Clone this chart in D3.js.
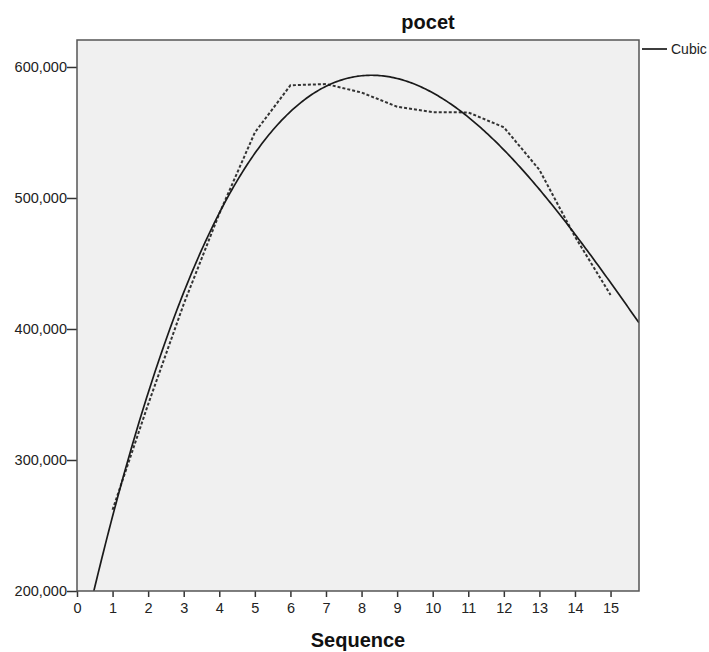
<!DOCTYPE html>
<html><head><meta charset="utf-8">
<script src="https://cdn.jsdelivr.net/npm/d3@7"></script>
<style>body{margin:0;background:#fff}svg{display:block}text{font-family:"Liberation Sans",Arial,sans-serif}</style>
</head><body>
<svg id="c" width="709" height="652"></svg>
<script>
const sequence = [1,2,3,4,5,6,7,8,9,10,11,12,13,14,15];
const pocet = [262000,342500,419000,488000,550000,586000,587000,580500,569700,565500,565300,554000,521500,470500,426000];
const xTicks = [0,1,2,3,4,5,6,7,8,9,10,11,12,13,14,15];
const yTicks = [200000,300000,400000,500000,600000];
const title = "pocet", xLabel = "Sequence", legendLabel = "Cubic";

// cubic least-squares fit of the observed series
function cubicFit(xs, ys){
  const n=4, A=[...Array(n)].map(()=>Array(n+1).fill(0));
  xs.forEach((x,k)=>{
    for(let i=0;i<n;i++){for(let j=0;j<n;j++)A[i][j]+=Math.pow(x,i+j);A[i][n]+=ys[k]*Math.pow(x,i);}
  });
  for(let i=0;i<n;i++){
    let p=i;for(let r=i+1;r<n;r++)if(Math.abs(A[r][i])>Math.abs(A[p][i]))p=r;
    [A[i],A[p]]=[A[p],A[i]];
    for(let r=0;r<n;r++){if(r===i)continue;const f=A[r][i]/A[i][i];for(let c=i;c<=n;c++)A[r][c]-=f*A[i][c];}
  }
  return A.map((row,i)=>row[n]/row[i]);
}
const coef = cubicFit(sequence, pocet);
const fx = x => coef[0]+coef[1]*x+coef[2]*x*x+coef[3]*x*x*x;

const svg = d3.select("#c");
const L=77, T=40, R=639, B=591;
const x = d3.scaleLinear().domain([0,15.8]).range([L,R]);
const y = d3.scaleLinear().domain([200000,620600]).range([B,T]);

svg.append("defs").append("clipPath").attr("id","clip")
  .append("rect").attr("x",L).attr("y",T).attr("width",R-L).attr("height",B-T);

svg.append("rect").attr("x",L).attr("y",T).attr("width",R-L).attr("height",B-T)
  .attr("fill","#f0f0f0");

// axes
const fmt = d3.format(",");
const yAxis = svg.append("g").attr("transform",`translate(${L},0)`)
  .call(d3.axisLeft(y).tickValues(yTicks).tickFormat(fmt).tickSize(10).tickPadding(0));
const xAxis = svg.append("g").attr("transform",`translate(0,${B})`)
  .call(d3.axisBottom(x).tickValues(xTicks).tickFormat(d3.format("d")).tickSize(6).tickPadding(6));
[yAxis,xAxis].forEach(g=>{
  g.select(".domain").remove();
  g.selectAll(".tick line").attr("stroke","#333").attr("stroke-width",1.5);
  g.selectAll(".tick text").attr("font-size",14.5).attr("fill","#222")
   .attr("font-family","'Liberation Sans',Arial,sans-serif");
});

// data line (dotted)
const clipG = svg.append("g").attr("clip-path","url(#clip)");
clipG.append("path").datum(sequence.map((s,i)=>[s,pocet[i]]))
  .attr("fill","none").attr("stroke","#333").attr("stroke-width",2)
  .attr("stroke-dasharray","3,2")
  .attr("d", d3.line().x(d=>x(d[0])).y(d=>y(d[1])));

// cubic fit line
const fitPts = d3.range(0, 15.8001, 0.05).map(v=>[v, fx(v)]);
clipG.append("path").datum(fitPts)
  .attr("fill","none").attr("stroke","#1a1a1a").attr("stroke-width",1.7)
  .attr("d", d3.line().x(d=>x(d[0])).y(d=>y(d[1])));

// frame
svg.append("rect").attr("x",L).attr("y",T).attr("width",R-L).attr("height",B-T)
  .attr("fill","none").attr("stroke","#555").attr("stroke-width",1.5);

// texts
svg.append("text").attr("x",428).attr("y",29).attr("text-anchor","middle")
  .attr("font-size",20).attr("font-weight","bold").attr("fill","#111").text(title);
svg.append("text").attr("x",358).attr("y",647).attr("text-anchor","middle")
  .attr("font-size",20).attr("font-weight","bold").attr("fill","#111").text(xLabel);

// legend
svg.append("line").attr("x1",642).attr("x2",667).attr("y1",49).attr("y2",49)
  .attr("stroke","#1a1a1a").attr("stroke-width",1.7);
svg.append("text").attr("x",671).attr("y",54).attr("font-size",14).attr("fill","#222").text(legendLabel);
</script>
</body></html>
